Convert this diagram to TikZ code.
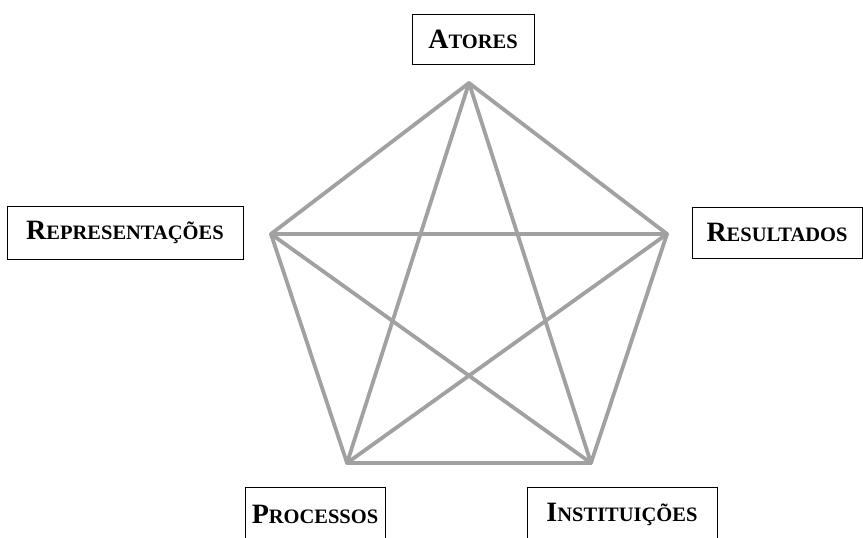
\documentclass[tikz,border=0pt]{standalone}
\usepackage{fontspec}
\setmainfont{Liberation Serif}
\newcommand{\sclab}[2]{\bfseries{\fontsize{28}{30}\selectfont #1}{\fontsize{20.5}{22}\selectfont #2}}
\begin{document}
\begin{tikzpicture}[x=1pt,y=1pt,
  lab/.style={draw=black, line width=0.9pt, fill=white, inner sep=0pt, anchor=center},
  edge/.style={draw=black!37, line width=3.8pt, line join=round}]
\useasboundingbox (0,0) rectangle (863,538);
\clip (0,0) rectangle (863,538);
\coordinate (T) at (469,455);
\coordinate (L) at (271,304);
\coordinate (R) at (667,304);
\coordinate (BL) at (347,75);
\coordinate (BR) at (591,75);
\draw[edge] (T) -- (R) -- (BR) -- (BL) -- (L) -- cycle;
\draw[edge] (T) -- (BL) -- (R) -- (L) -- (BR) -- cycle;
\node[lab, minimum width=122pt, minimum height=50pt] (atores) at (473,499) {\sclab{A}{TORES}};
\node[lab, minimum width=236pt, minimum height=53pt] (repr) at (125,305.5) {\sclab{R}{EPRESENTAÇÕES}};
\node[lab, minimum width=170pt, minimum height=51pt] (resu) at (777,305.5) {\sclab{R}{ESULTADOS}};
\node[lab, minimum width=140pt, minimum height=54pt] (proc) at (315,24) {\sclab{P}{ROCESSOS}};
\node[lab, minimum width=190pt, minimum height=54pt] (inst) at (622,24) {\sclab{I}{NSTITUIÇÕES}};
\end{tikzpicture}
\end{document}
